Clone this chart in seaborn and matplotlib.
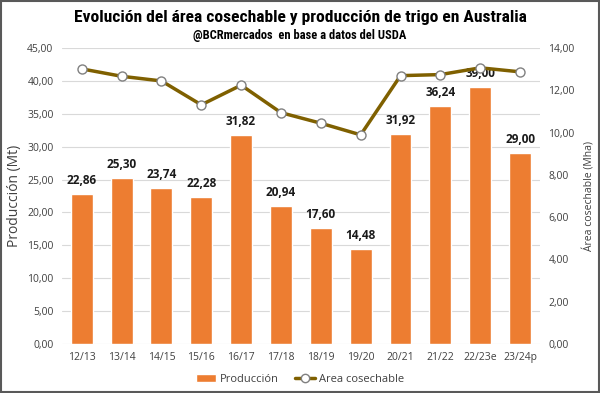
import matplotlib
matplotlib.use("Agg")
import matplotlib.pyplot as plt
import seaborn as sns
import pandas as pd
from matplotlib.patches import Patch, Rectangle
from matplotlib.lines import Line2D
from matplotlib.ticker import FuncFormatter, MultipleLocator
from matplotlib import font_manager

seasons = ["12/13", "13/14", "14/15", "15/16", "16/17", "17/18", "18/19",
           "19/20", "20/21", "21/22", "22/23e", "23/24p"]
produccion = [22.86, 25.30, 23.74, 22.28, 31.82, 20.94, 17.60, 14.48,
              31.92, 36.24, 39.00, 29.00]
area = [13.01, 12.66, 12.44, 11.31, 12.24, 10.94, 10.44, 9.89,
        12.69, 12.74, 13.06, 12.87]

title = "Evolución del área cosechable y producción de trigo en Australia"
subtitle = "@BCRmercados  en base a datos del USDA"

sns.set_theme(style="white")
plt.rcParams['font.family'] = ['Open Sans', 'DejaVu Sans']

names = {f.name for f in font_manager.fontManager.ttflist}
cond = None
for cand in ["Liberation Sans Narrow", "DejaVu Sans Condensed", "Roboto Condensed",
             "Open Sans Condensed"]:
    if cand in names:
        cond = cand
        break

df = pd.DataFrame({"season": seasons, "prod": produccion, "area": area})

fig = plt.figure(figsize=(6, 3.93), dpi=100)
ax = fig.add_axes([0.103, 0.1247, 0.797, 0.7533])

bar_color = "#ED7D31"
line_color = "#7F6000"
txt = "#404040"

sns.barplot(data=df, x="season", y="prod", color=bar_color, width=0.55,
            ax=ax, saturation=1, zorder=2)
ax.set_ylim(0, 45)
ax.yaxis.set_major_locator(MultipleLocator(5))
fmt = FuncFormatter(lambda v, p: f"{v:.2f}".replace(".", ","))
ax.yaxis.set_major_formatter(fmt)
ax.grid(axis="y", color="#D9D9D9", linewidth=0.8, zorder=0)
ax.set_axisbelow(True)
for s in ax.spines.values():
    s.set_visible(False)
ax.tick_params(axis="both", length=0, labelsize=7.5, colors=txt, pad=6)
ax.set_xlabel("")
ax.set_ylabel("Producción (Mt)", fontsize=10, color="#404040", labelpad=4)

labels = [f"{v:.2f}".replace(".", ",") for v in produccion]
ax.bar_label(ax.containers[0], labels=labels, padding=5, fontsize=8.5,
             fontweight="bold", color="#1a1a1a")

ax2 = ax.twinx()
sns.lineplot(data=df, x="season", y="area", ax=ax2, color=line_color,
             linewidth=2.5, marker="o", markersize=6.5,
             markerfacecolor="white", markeredgecolor="#808080",
             markeredgewidth=1, zorder=3)
ax2.set_ylim(0, 14)
ax2.yaxis.set_major_locator(MultipleLocator(2))
ax2.yaxis.set_major_formatter(fmt)
ax2.grid(False)
for s in ax2.spines.values():
    s.set_visible(False)
ax2.tick_params(axis="y", length=0, labelsize=7.5, colors=txt, pad=6)
ax2.set_xlabel("")
ax2.set_ylabel("Área cosechable (Mha)", fontsize=7.5, color="#404040", labelpad=6)
ax.set_xlim(-0.5, len(seasons) - 0.5)

handles = [Patch(facecolor=bar_color, label="Producción"),
           Line2D([0], [0], color=line_color, linewidth=2.5, marker="o",
                  markersize=6, markerfacecolor="white",
                  markeredgecolor="#808080", label="Area cosechable")]
fig.legend(handles=handles, loc="center", bbox_to_anchor=(0.5, 0.035),
           ncol=2, frameon=False, fontsize=8, handlelength=1.8,
           handletextpad=0.3, columnspacing=1.5, labelcolor="#404040")

if cond:
    tkw = dict(family=[cond, "DejaVu Sans"])
    tsize, ssize = 12.6, 9
else:
    tkw = dict(family=["DejaVu Sans"], fontstretch="condensed")
    tsize, ssize = 11.5, 7.5
fig.text(0.5, 0.955, title, ha="center", va="center", fontsize=tsize,
         fontweight="bold", color="#000000", **tkw)
fig.text(0.5, 0.91, subtitle, ha="center", va="center", fontsize=ssize,
         fontweight="bold", color="#000000", **tkw)

fig.patches.append(Rectangle((0.002, 0.003), 0.996, 0.994, transform=fig.transFigure,
                             fill=False, edgecolor="#595959", linewidth=1.5))

fig.savefig("out.png", dpi=100)
